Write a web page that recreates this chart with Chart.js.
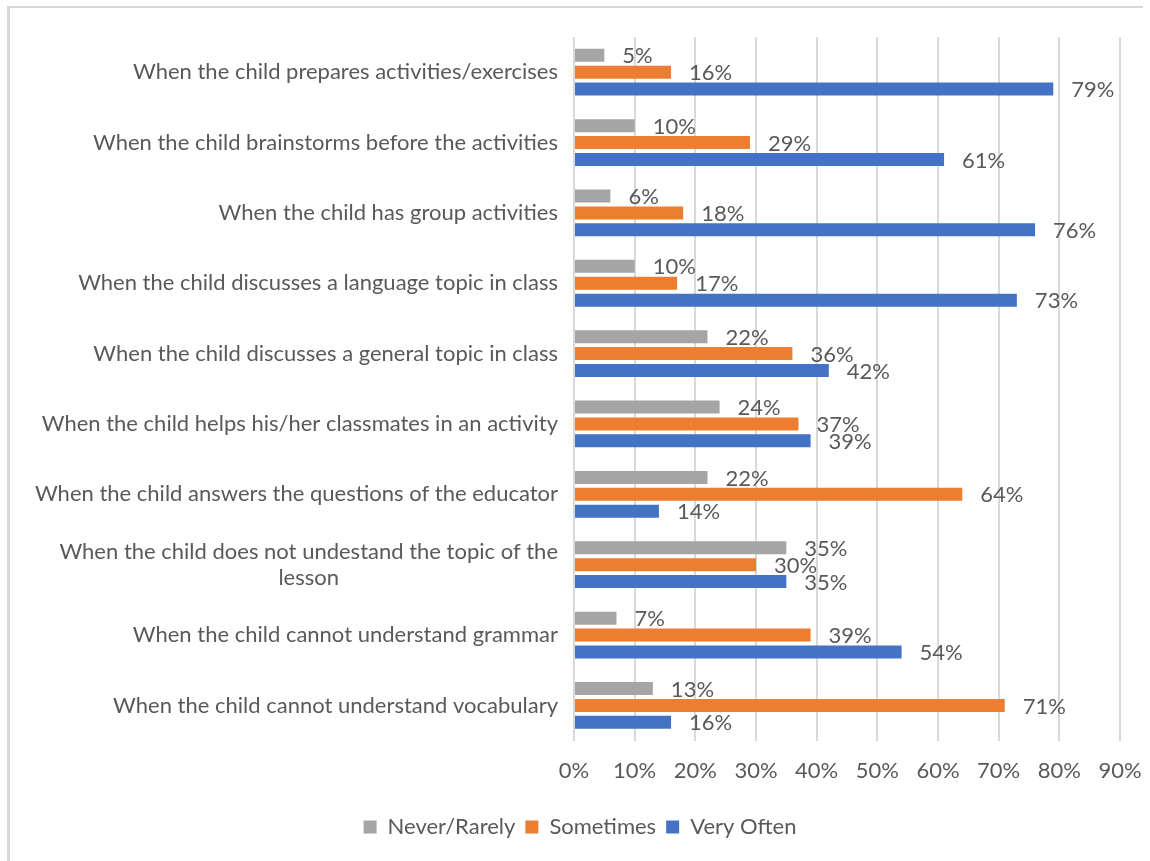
<!DOCTYPE html>
<html>
<head>
<meta charset="utf-8">
<script src="https://cdn.jsdelivr.net/npm/chart.js@4.4.1/dist/chart.umd.min.js"></script>
<style>
  html, body { margin: 0; padding: 0; background: #ffffff; }
  #frame {
    position: absolute; left: 7px; top: 6px; width: 1136px; height: 860px;
    border-top: 2px solid #d9d9d9; border-left: 3px solid #d9d9d9;
    box-sizing: border-box;
  }
  #wrap { position: absolute; left: 0; top: 0; width: 1150px; height: 861px; }
</style>
</head>
<body>
<div id="frame"></div>
<div id="wrap"><canvas id="chart" width="1150" height="861"></canvas></div>
<script>
// Situations (one per row, top to bottom); wrapped labels are arrays of lines
const categories = [
  'When the child prepares activities/exercises',
  'When the child brainstorms before the activities',
  'When the child has group activities',
  'When the child discusses a language topic in class',
  'When the child discusses a general topic in class',
  'When the child helps his/her classmates in an activity',
  'When the child answers the questions of the educator',
  ['When the child does not undestand the topic of the', 'lesson'],
  'When the child cannot understand grammar',
  'When the child cannot understand vocabulary'
];

// Share of answers per frequency (%)
const neverRarely = [5, 10, 6, 10, 22, 24, 22, 35, 7, 13];
const sometimes   = [16, 29, 18, 17, 36, 37, 64, 30, 39, 71];
const veryOften   = [79, 61, 76, 73, 42, 39, 14, 35, 54, 16];

const seriesNames = ['Never/Rarely', 'Sometimes', 'Very Often'];
const xTicks = [0, 10, 20, 30, 40, 50, 60, 70, 80, 90];

const TEXT = '#595959';
const FONT = 'Lato, "Liberation Sans", sans-serif';
const FS = 22;
const PLOT_LEFT = 574;
const PAD_LEFT = 40;

// Writes the percentage just past the end of each bar
const valueLabels = {
  id: 'valueLabels',
  afterDatasetsDraw(chart) {
    const ctx = chart.ctx;
    ctx.save();
    ctx.font = FS + 'px ' + FONT;
    ctx.fillStyle = TEXT;
    ctx.textAlign = 'left';
    ctx.textBaseline = 'middle';
    chart.data.datasets.forEach((ds, di) => {
      const meta = chart.getDatasetMeta(di);
      meta.data.forEach((bar, i) => {
        ctx.fillText(ds.data[i] + '%', bar.x + 18, bar.y + 1);
      });
    });
    ctx.restore();
  }
};

// Category labels: right-aligned block, wrapped lines centred within it
const categoryLabels = {
  id: 'categoryLabels',
  afterDraw(chart) {
    const ctx = chart.ctx;
    const yScale = chart.scales.y;
    const right = chart.chartArea.left - 16;
    const lineH = 26;
    ctx.save();
    ctx.font = FS + 'px ' + FONT;
    ctx.fillStyle = TEXT;
    ctx.textAlign = 'center';
    ctx.textBaseline = 'middle';
    categories.forEach((lab, i) => {
      const lines = Array.isArray(lab) ? lab : [lab];
      const w = Math.max(...lines.map(l => ctx.measureText(l).width));
      const cx = right - w / 2;
      const yc = yScale.getPixelForValue(i);
      const y0 = yc - (lines.length - 1) * lineH / 2;
      lines.forEach((l, k) => ctx.fillText(l, cx, y0 + k * lineH));
    });
    ctx.restore();
  }
};

new Chart(document.getElementById('chart'), {
  type: 'bar',
  data: {
    labels: categories,
    datasets: [
      { label: seriesNames[0], data: neverRarely, backgroundColor: '#A5A5A5' },
      { label: seriesNames[1], data: sometimes,   backgroundColor: '#ED7D31' },
      { label: seriesNames[2], data: veryOften,   backgroundColor: '#4472C4' }
    ]
  },
  options: {
    indexAxis: 'y',
    responsive: false,
    animation: false,
    devicePixelRatio: 1,
    categoryPercentage: 0.72,
    barPercentage: 0.77,
    layout: { padding: { left: PAD_LEFT, right: 30, top: 37, bottom: 13 } },
    scales: {
      x: {
        min: 0, max: 90,
        afterBuildTicks(scale) { scale.ticks = xTicks.map(v => ({ value: v })); },
        afterFit(scale) {
          scale.paddingRight = 0;
          scale.paddingLeft = 0;
          scale.height += 5;
        },
        grid: { color: '#d9d9d9', lineWidth: 2, drawTicks: false },
        border: { display: false },
        ticks: {
          padding: 17,
          color: TEXT,
          font: { family: FONT, size: FS },
          callback: v => v + '%'
        }
      },
      y: {
        grid: { display: false },
        border: { display: false },
        afterFit(scale) { scale.width = PLOT_LEFT - PAD_LEFT; },
        ticks: { display: false }
      }
    },
    plugins: {
      legend: {
        position: 'bottom',
        labels: {
          color: TEXT,
          font: { family: FONT, size: FS },
          boxWidth: 13,
          boxHeight: 13,
          padding: 10
        }
      },
      tooltip: { enabled: false }
    }
  },
  plugins: [valueLabels, categoryLabels]
});
</script>
</body>
</html>
